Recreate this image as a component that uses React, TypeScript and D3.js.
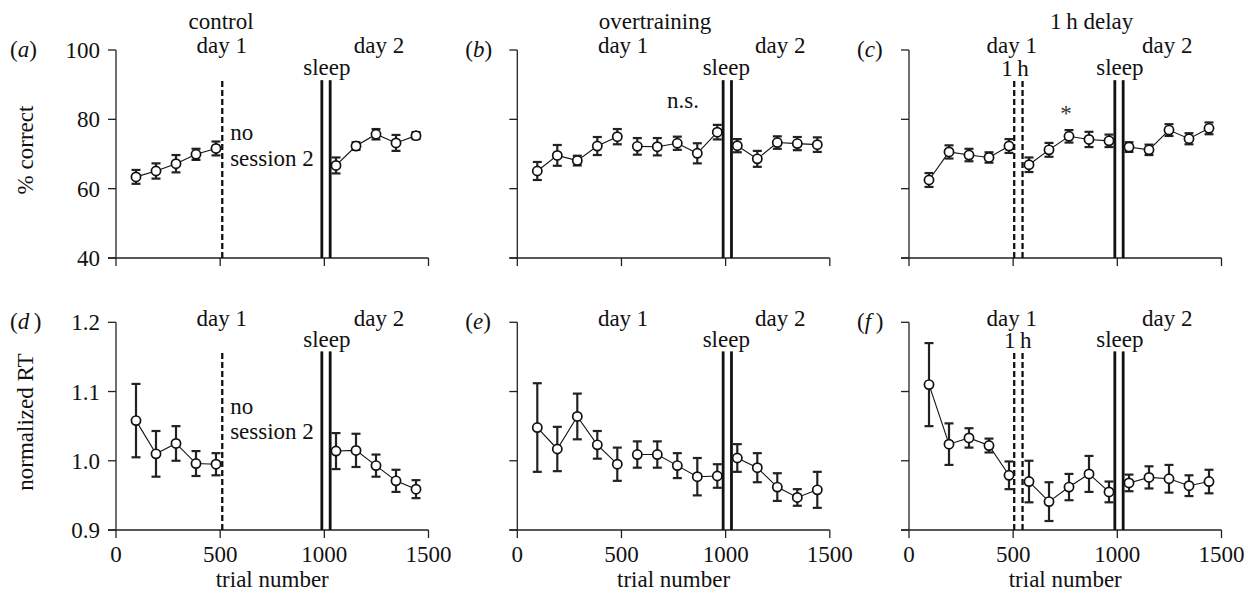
import React from "react";
import * as d3 from "d3";

// ---------- data ----------
const trials = [96, 192, 288, 384, 480, 576, 672, 768, 864, 960, 1056, 1152, 1248, 1344, 1440];

// % correct
const controlCorrect = [63.4, 65.1, 67.2, 69.9, 71.6, null, null, null, null, null, 66.7, 72.3, 75.7, 73.2, 75.3];
const controlCorrectErr = [2.0, 2.2, 2.5, 1.6, 2.0, 0, 0, 0, 0, 0, 2.3, 1.1, 1.5, 2.3, 1.0];
const overCorrect = [65.1, 69.6, 68.1, 72.3, 75.0, 72.2, 72.1, 73.1, 70.2, 76.3, 72.4, 68.6, 73.3, 73.0, 72.7];
const overCorrectErr = [2.6, 3.0, 1.4, 2.6, 2.2, 2.4, 2.5, 1.9, 2.9, 2.1, 1.9, 2.3, 1.8, 1.9, 2.1];
const delayCorrect = [62.5, 70.6, 69.7, 69.0, 72.3, 66.9, 71.2, 75.1, 74.2, 73.8, 72.0, 71.2, 76.9, 74.4, 77.4];
const delayCorrectErr = [2.0, 1.9, 1.8, 1.5, 2.0, 2.1, 2.0, 1.8, 2.2, 1.8, 1.4, 1.5, 1.7, 1.6, 1.7];

// normalized RT
const controlRT = [1.058, 1.010, 1.025, 0.996, 0.995, null, null, null, null, null, 1.014, 1.015, 0.993, 0.971, 0.959];
const controlRTErr = [0.053, 0.033, 0.025, 0.018, 0.016, 0, 0, 0, 0, 0, 0.026, 0.024, 0.016, 0.016, 0.013];
const overRT = [1.048, 1.017, 1.064, 1.023, 0.995, 1.009, 1.009, 0.993, 0.977, 0.978, 1.004, 0.990, 0.962, 0.947, 0.958];
const overRTErr = [0.064, 0.032, 0.033, 0.020, 0.024, 0.019, 0.019, 0.018, 0.027, 0.017, 0.020, 0.021, 0.020, 0.012, 0.026];
const delayRT = [1.110, 1.024, 1.033, 1.022, 0.979, 0.970, 0.941, 0.962, 0.981, 0.955, 0.968, 0.976, 0.974, 0.964, 0.970];
const delayRTErr = [0.060, 0.030, 0.014, 0.010, 0.020, 0.030, 0.028, 0.019, 0.026, 0.015, 0.012, 0.016, 0.020, 0.015, 0.017];

const xTicks = [0, 500, 1000, 1500];
const correctTicks = [40, 60, 80, 100];
const rtTicks = [0.9, 1.0, 1.1, 1.2];
const sleepLines = [988, 1028];
const noSessionLine = [510];
const delayLines = [505, 545];
const panelLetters = ["a", "b", "c", "d", "e", "f"];
const conditionTitles = ["control", "overtraining", "1\u2009h delay"];

// ---------- layout ----------
const FONT = "'Liberation Serif', 'Times New Roman', serif";
const FS = 23;
const colLeft = [116, 517.3, 909];
const plotW = 312.5;
const rows = [
  { top: 50, bottom: 258, domain: [40, 100], ticks: correctTicks, fmt: (v: number) => String(v), label: "% correct", lineTop: 91.3 },
  { top: 322.3, bottom: 530, domain: [0.9, 1.2], ticks: rtTicks, fmt: (v: number) => v.toFixed(1), label: "normalized RT", lineTop: 1.158 },
];

const seriesByPanel = [
  [controlCorrect, controlCorrectErr],
  [overCorrect, overCorrectErr],
  [delayCorrect, delayCorrectErr],
  [controlRT, controlRTErr],
  [overRT, overRTErr],
  [delayRT, delayRTErr],
];

const segments = [[0, 5], [5, 10], [10, 15]];

function Panel({ row, col }: { row: number; col: number }) {
  const r = rows[row];
  const idx = row * 3 + col;
  const x = d3.scaleLinear().domain([0, 1500]).range([colLeft[col], colLeft[col] + plotW]);
  const y = d3.scaleLinear().domain(r.domain).range([r.bottom, r.top]);
  const [vals, errs] = seriesByPanel[idx] as [(number | null)[], number[]];
  const line = d3
    .line<number>()
    .x((i) => x(trials[i]))
    .y((i) => y(vals[i] as number));

  const dashed = col === 0 ? noSessionLine : col === 2 ? delayLines : [];
  const x0 = colLeft[col];
  const titleY = r.top - 21.5;
  const dayY = r.top + (row === 0 ? 3.3 : 4);
  const sleepY = r.top + 25;

  return (
    <g>
      {/* axes */}
      <line x1={x0} x2={x0} y1={r.top} y2={r.bottom} stroke="#222" strokeWidth={1.3} />
      <line x1={x0 - 8} x2={x0 + plotW} y1={r.bottom} y2={r.bottom} stroke="#222" strokeWidth={1.3} />
      {r.ticks.map((t) => (
        <g key={"yt" + t}>
          <line x1={x0 - 8} x2={x0} y1={y(t)} y2={y(t)} stroke="#222" strokeWidth={1.3} />
          {col === 0 && (
            <text x={x0 - 16} y={y(t)} dy="0.35em" textAnchor="end" fontSize={FS} fontFamily={FONT} fill="#111">
              {r.fmt(t)}
            </text>
          )}
        </g>
      ))}
      {xTicks.map((t) => (
        <g key={"xt" + t}>
          <line x1={x(t)} x2={x(t)} y1={r.bottom} y2={r.bottom + 8} stroke="#222" strokeWidth={1.3} />
          {row === 1 && (
            <text x={x(t)} y={r.bottom + 32} textAnchor="middle" fontSize={FS} fontFamily={FONT} fill="#111">
              {t}
            </text>
          )}
        </g>
      ))}
      {row === 1 && (
        <text x={x(750)} y={587} textAnchor="middle" fontSize={FS} fontFamily={FONT} fill="#111">
          trial number
        </text>
      )}
      {col === 0 && (
        <text
          transform={`translate(33,${(r.top + r.bottom) / 2 - 4}) rotate(-90)`}
          textAnchor="middle"
          fontSize={FS}
          fontFamily={FONT}
          fill="#111"
        >
          {r.label}
        </text>
      )}

      {/* panel letter */}
      <text x={x0 - (col === 0 ? 106 : 52)} y={r.top + 7} fontSize={FS} fontFamily={FONT} fill="#111">
        (<tspan fontStyle="italic">{panelLetters[idx]}</tspan>
        {panelLetters[idx] === "d" || panelLetters[idx] === "f" ? "\u2009)" : ")"}
      </text>

      {/* vertical markers */}
      {sleepLines.map((s) => (
        <line key={"s" + s} x1={x(s)} x2={x(s)} y1={r.bottom} y2={y(r.lineTop)} stroke="#111" strokeWidth={2.8} />
      ))}
      {dashed.map((s) => (
        <line
          key={"d" + s}
          x1={x(s)}
          x2={x(s)}
          y1={r.bottom}
          y2={y(r.lineTop)}
          stroke="#111"
          strokeWidth={2.3}
          strokeDasharray="6,3"
        />
      ))}

      {/* annotations */}
      {row === 0 && (
        <text x={x(col === 0 ? 504 : col === 1 ? 661 : 877)} y={titleY} textAnchor="middle" fontSize={FS} fontFamily={FONT} fill="#111">
          {conditionTitles[col]}
        </text>
      )}
      <text x={x(col === 2 ? 493 : 508)} y={dayY} textAnchor="middle" fontSize={FS} fontFamily={FONT} fill="#111">
        day 1
      </text>
      <text x={x(col === 2 ? 1240 : 1262)} y={dayY} textAnchor="middle" fontSize={FS} fontFamily={FONT} fill="#111">
        day 2
      </text>
      <text x={x(col === 1 ? 1003 : 1012)} y={sleepY} textAnchor="middle" fontSize={FS} fontFamily={FONT} fill="#111">
        sleep
      </text>
      {col === 2 && (
        <text x={x(row === 0 ? 509 : 522)} y={sleepY + 1} textAnchor="middle" fontSize={FS} fontFamily={FONT} fill="#111">
          1&#8201;h
        </text>
      )}
      {col === 0 && (
        <g>
          <text x={x(548)} y={y(row === 0 ? 74 : 1.0677)} fontSize={FS} fontFamily={FONT} fill="#111">
            no
          </text>
          <text x={x(548)} y={y(row === 0 ? 66.5 : 1.0311)} fontSize={FS} fontFamily={FONT} fill="#111">
            session 2
          </text>
        </g>
      )}
      {idx === 1 && (
        <text x={x(795)} y={y(83.3)} textAnchor="middle" fontSize={FS} fontFamily={FONT} fill="#111">
          n.s.
        </text>
      )}
      {idx === 2 && (
        <text x={x(754)} y={y(79.6)} textAnchor="middle" fontSize={FS} fontFamily={FONT} fill="#333">
          *
        </text>
      )}

      {/* data lines */}
      {segments.map(([a, b], k) => {
        const ids = d3.range(a, b).filter((i) => vals[i] != null);
        if (ids.length < 2) return null;
        return <path key={"seg" + k} d={line(ids) || ""} fill="none" stroke="#111" strokeWidth={1.1} />;
      })}
      {/* error bars */}
      {trials.map((t, i) =>
        vals[i] == null ? null : (
          <g key={"e" + i} stroke="#222" strokeWidth={2.2}>
            <line x1={x(t)} x2={x(t)} y1={y((vals[i] as number) - errs[i])} y2={y((vals[i] as number) + errs[i])} />
            <line x1={x(t) - 4.5} x2={x(t) + 4.5} y1={y((vals[i] as number) - errs[i])} y2={y((vals[i] as number) - errs[i])} />
            <line x1={x(t) - 4.5} x2={x(t) + 4.5} y1={y((vals[i] as number) + errs[i])} y2={y((vals[i] as number) + errs[i])} />
          </g>
        )
      )}
      {/* markers */}
      {trials.map((t, i) =>
        vals[i] == null ? null : (
          <circle key={"c" + i} cx={x(t)} cy={y(vals[i] as number)} r={4.6} fill="#fff" stroke="#111" strokeWidth={1.7} />
        )
      )}
    </g>
  );
}

export default function App() {
  return (
    <div style={{ position: "absolute", left: 0, top: 0 }}>
      <svg width={1250} height={596} style={{ display: "block", background: "#fff" }}>
        {[0, 1].map((row) => [0, 1, 2].map((col) => <Panel key={row + "-" + col} row={row} col={col} />))}
      </svg>
    </div>
  );
}
